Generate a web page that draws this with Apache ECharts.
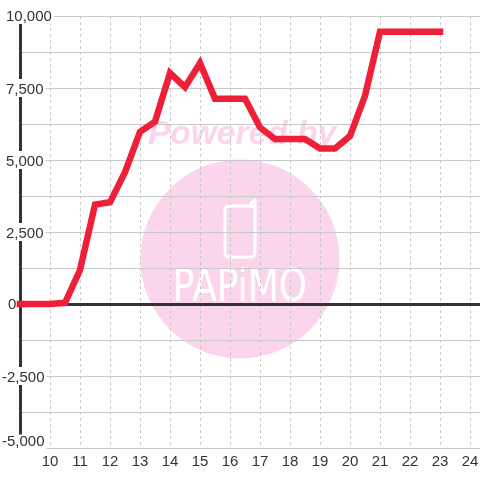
<!DOCTYPE html>
<html><head><meta charset="utf-8">
<style>html,body{margin:0;padding:0;background:#fff;overflow:hidden}#c{width:480px;height:480px}</style>
<script src="https://cdn.jsdelivr.net/npm/echarts@6/dist/echarts.min.js"></script>
</head><body><div id="c"></div>
<script>
const hours = [9,9.5,10,10.5,11,11.5,12,12.5,13,13.5,14,14.5,15,15.5,16,16.5,17,17.5,18,18.5,19,19.5,20,20.5,21,21.5,22,22.5,23];
const values = [0,0,0,40,1180,3450,3530,4580,5980,6330,8020,7530,8370,7130,7130,7130,6130,5730,5730,5730,5400,5400,5830,7230,9450,9450,9450,9450,9450];
const yLabels = {'10000':'10,000','7500':'7,500','5000':'5,000','2500':'2,500','0':'0','-2500':'-2,500','-5000':'-5,000'};
const wmTitle = 'Powered by';
const wmBrand = 'PAPiMO';
const ink = '#333333', grid = '#c8c8c8', red = '#f01f38', pink = '#fbd5ec';
const labelFont = {color:ink,fontSize:15,fontFamily:'Liberation Sans',backgroundColor:'#fff'};
const chart = echarts.init(document.getElementById('c'), null, {renderer:'canvas'});
chart.setOption({
  animation:false,
  backgroundColor:'#ffffff',
  grid:{left:20,width:465,top:16,height:432,containLabel:false,outerBoundsMode:'none'},
  graphic:{z:-1,elements:[
    {type:'circle',silent:true,z:-1,shape:{cx:240,cy:259,r:99.5},style:{fill:pink}},
    {type:'text',silent:true,z:-1,x:242,y:135,style:{text:wmTitle,font:'italic bold 33.5px "Liberation Sans"',fill:pink,align:'center',verticalAlign:'middle'}},
    {type:'rect',silent:true,z:-1,shape:{x:225,y:206,width:30,height:51,r:4},style:{fill:'none',stroke:'#ffffff',lineWidth:3}},
    {type:'polyline',silent:true,z:-1,shape:{points:[[251,206],[251,203],[255,200],[255,210]]},style:{fill:'none',stroke:'#ffffff',lineWidth:3,lineCap:'round',lineJoin:'round'}},
    {type:'text',silent:true,z:-1,x:240,y:289,scaleY:1.25,style:{text:wmBrand,font:'36px "DejaVu Sans"',fill:'#ffffff',stroke:pink,lineWidth:1,align:'center',verticalAlign:'middle'}}
  ]},
  xAxis:[
    {type:'value',min:9,max:24.5,interval:1,position:'bottom',
     axisLine:{show:false,onZero:false},axisTick:{show:false},
     axisLabel:{color:ink,fontSize:15,fontFamily:'Liberation Sans',margin:6,
       formatter:v=>(v>=10&&v<=24&&Number.isInteger(v))?String(v):''},
     splitLine:{show:true,lineStyle:{color:grid,type:[3,3],width:1}}},
    {type:'value',min:9,max:24.5,interval:1,position:'top',
     axisLine:{show:true,onZero:true,lineStyle:{color:ink,width:3}},
     axisTick:{show:false},axisLabel:{show:false},splitLine:{show:false}}
  ],
  yAxis:{type:'value',min:-5000,max:10000,interval:1250,
    axisLine:{show:true,onZero:false,lineStyle:{color:ink,width:3}},axisTick:{show:false},
    splitLine:{show:true,lineStyle:{color:grid,width:1}},
    axisLabel:{inside:true,margin:-18,align:'left',color:ink,fontSize:15,fontFamily:'Liberation Sans',
      formatter:v=>{const s=yLabels[String(v)];if(!s)return '';
        const k=v===0?'z':(v===-5000?'b':(v===10000?'t':(v<0?'n':'p')));return '{'+k+'|'+s+'}';},
      rich:{
        t:Object.assign({padding:[1,2,0,4]},labelFont),
        p:Object.assign({padding:[3,2,0,4]},labelFont),
        n:Object.assign({padding:[3,2,0,0]},labelFont),
        z:Object.assign({padding:[1,2,0,6]},labelFont),
        b:Object.assign({padding:[0,2,12,0]},labelFont)
      }}},
  series:[{type:'line',xAxisIndex:0,data:hours.map((h,i)=>[h,values[i]]),showSymbol:false,clip:false,z:5,
    lineStyle:{color:red,width:6.5,cap:'square',join:'miter'}}]
});
</script></body></html>
